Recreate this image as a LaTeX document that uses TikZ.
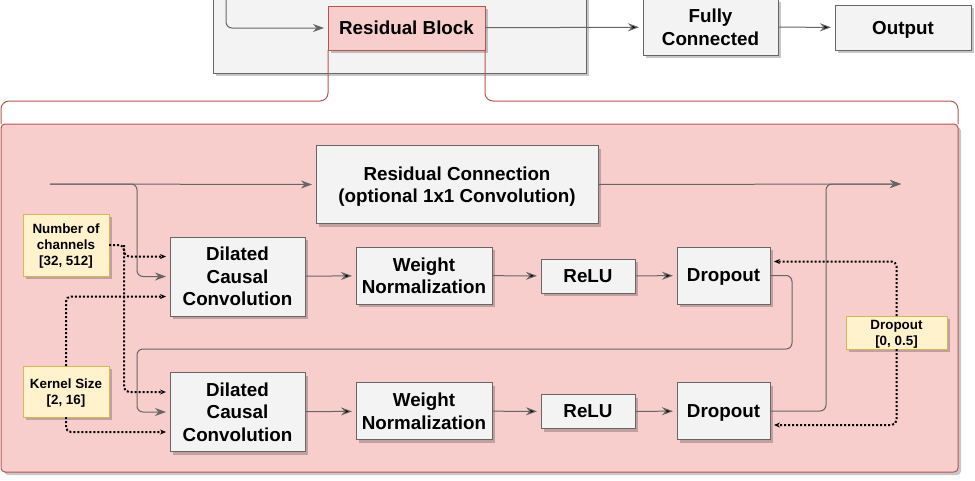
\documentclass[tikz,border=0pt]{standalone}
\usepackage{fontspec}
\setmainfont{Liberation Sans}
\usetikzlibrary{arrows.meta,positioning,shadows}

\definecolor{boxfill}{HTML}{F3F3F3}
\definecolor{boxline}{HTML}{666666}
\definecolor{resfill}{HTML}{F8CECC}
\definecolor{resline}{HTML}{B85450}
\definecolor{parfill}{HTML}{FFF2CC}
\definecolor{parline}{HTML}{D6B656}

\begin{document}
\begin{tikzpicture}[x=1pt,y=-1pt,node distance=135.5pt,line width=1pt,
    font=\fontsize{18.8}{22.5}\selectfont\bfseries]
    \tikzstyle{shade}=[drop shadow={shadow xshift=3pt,shadow yshift=-3pt,fill=black,opacity=.22}]
    \tikzstyle{layer}=[draw=boxline,fill=boxfill,align=center,inner sep=0pt,outer sep=0pt,text depth=-3pt,shade]
    \tikzstyle{resblock}=[draw=resline,fill=resfill,align=center,inner sep=0pt,outer sep=0pt,text depth=-3pt,shade]
    \tikzstyle{param}=[draw=parline,fill=parfill,align=center,inner sep=0pt,outer sep=0pt,text depth=-1pt,shade,
        font=\fontsize{13.4}{16}\selectfont\bfseries]
    \tikzstyle{flow}=[draw=boxline,shorten >=4pt,-{Stealth[length=11pt,width=8pt,inset=3.5pt]}]
    \tikzstyle{hyper}=[draw=black,line width=2pt,dash pattern=on 2pt off 2pt,rounded corners=5pt,
        shorten >=4pt,-{Stealth[length=6pt,width=5pt,inset=2pt]}]

    \useasboundingbox (0,0) rectangle (975,480);

    % model overview
    \node[layer,minimum width=373pt,minimum height=83pt] (model) at (399.5,31.5) {};
    \node[resblock,minimum width=157pt,minimum height=44pt] (rb)   at (406.5,28)  {Residual Block};
    \node[layer,minimum width=135pt,minimum height=56pt]    (fc)   at (710.5,27)  {Fully\\Connected};
    \node[layer,minimum width=136pt,minimum height=45pt]    (outp) at (903,27.5)  {Output};

    % expanded residual block
    \node[resblock,rounded corners=4pt,minimum width=957pt,minimum height=348pt] (tcn) at (479.5,298) {};

    \node[layer,minimum width=282pt,minimum height=78pt] (rc) at (457,184.5) {Residual Connection\\(optional 1x1 Convolution)};

    \node[layer,minimum width=135pt,minimum height=79pt] (dcc1)  at (237.5,276.5) {Dilated\\Causal\\Convolution};
    \node[layer,minimum width=136pt,minimum height=57pt] (wn1)   at (424,275.5)   {Weight\\Normalization};
    \node[layer,minimum width=94pt,minimum height=34pt]  (relu1) at (588,276)     {ReLU};
    \node[layer,minimum width=93pt,minimum height=57pt]  (do1)   at (723.5,275.5) {Dropout};

    \node[layer,minimum width=135pt,minimum height=79pt] (dcc2)  [below of=dcc1]  {Dilated\\Causal\\Convolution};
    \node[layer,minimum width=136pt,minimum height=57pt] (wn2)   [below of=wn1]   {Weight\\Normalization};
    \node[layer,minimum width=94pt,minimum height=34pt]  (relu2) [below of=relu1] {ReLU};
    \node[layer,minimum width=93pt,minimum height=57pt]  (do2)   [below of=do1]   {Dropout};

    \node[param,minimum width=86pt,minimum height=62pt]  (nch) at (66,245)      {Number of\\channels\\{[32, 512]}};
    \node[param,minimum width=86pt,minimum height=51pt]  (ks)  at (66,391.5)    {Kernel Size\\{[2, 16]}};
    \node[param,minimum width=101pt,minimum height=33pt] (dl)  at (896.5,332.5) {Dropout\\{[0, 0.5]}};

    \coordinate (top)  at (226,-5);
    \coordinate (in)   at (50,184);
    \coordinate (out)  at (905,184);
    \coordinate (loop) at (137,349);
    \coordinate (chx)  at (124,245);

    % zoom lines
    \draw[resline,rounded corners=8pt] (rb.south west) |- ([yshift=23pt]tcn.north west) -- (tcn.north west);
    \draw[resline,rounded corners=8pt] (rb.south east) |- ([yshift=23pt]tcn.north east) -- (tcn.north east);

    % data flow
    \draw[flow,rounded corners=6pt] (top) |- (rb.west);
    \path[flow]
    (rb) edge (fc)
    (fc) edge (outp)
    (dcc1) edge (wn1)
    (wn1) edge (relu1)
    (relu1) edge (do1)
    (dcc2) edge (wn2)
    (wn2) edge (relu2)
    (relu2) edge (do2);
    \draw[flow] (in) -- (rc.west);
    \draw[flow,rounded corners=6pt] (in) -- ++(87,0) |- (dcc1.west);
    \draw[flow,rounded corners=6pt] (do1.east) -- ++(22,0) |- (loop) |- (dcc2.west);
    \draw[flow] (rc.east) -- (out);
    \draw[flow,rounded corners=6pt] (do2.east) -- ++(56,0) |- (out);

    % hyperparameters
    \draw[hyper] (nch.east) -- (chx) |- ([yshift=20pt]dcc2.west);
    \draw[hyper] (chx) |- ([yshift=20pt]dcc1.west);
    \draw[hyper] (ks.north) |- ([yshift=-20pt]dcc1.west);
    \draw[hyper] (ks.south) |- ([yshift=-20pt]dcc2.west);
    \draw[hyper] (dl.north) |- ([yshift=14pt]do1.east);
    \draw[hyper] (dl.south) |- ([yshift=-14pt]do2.east);
\end{tikzpicture}
\end{document}
